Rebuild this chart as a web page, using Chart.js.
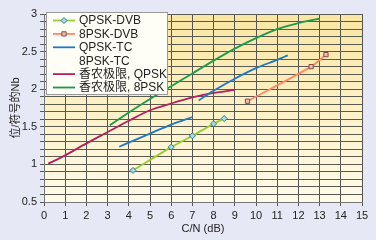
<html><head>
<title>C/N vs Nb</title>
<style>
  body {
    margin: 0;
    background-color: #e6e8f6;
  }
  #wrap {
    position: relative;
    width: 376px;
    height: 240px;
  }
</style>
<script src="https://cdn.jsdelivr.net/npm/chart.js"></script>
</head>
<body>
  <div id="wrap"><canvas id="cnChart" width="376" height="240"></canvas></div>

  <script>
    // Values
    const seriesNames = ['QPSK-DVB', '8PSK-DVB', 'QPSK-TC', '8PSK-TC', '香农极限, QPSK', '香农极限, 8PSK'];

    const qpskDvbX = [4.2, 6.0, 7.0, 8.0, 8.5];
    const qpskDvbY = [0.92, 1.23, 1.38, 1.54, 1.61];

    const epskDvbX = [9.6, 12.6, 13.3];
    const epskDvbY = [1.84, 2.30, 2.46];

    const qpskTcX = [3.55, 4, 5, 6, 7];
    const qpskTcY = [1.235, 1.29, 1.41, 1.53, 1.63];

    const epskTcX = [7.3, 8, 9, 10, 11, 11.5];
    const epskTcY = [1.85, 1.98, 2.14, 2.28, 2.39, 2.45];

    const shannonQpskX = [0.2, 1, 2, 3, 4, 5, 6, 7, 8, 9];
    const shannonQpskY = [1.01, 1.12, 1.28, 1.43, 1.58, 1.72, 1.81, 1.89, 1.95, 1.99];

    const shannon8pskX = [3.1, 4, 5, 6, 7, 8, 9, 10, 11, 12, 13];
    const shannon8pskY = [1.52, 1.69, 1.87, 2.04, 2.21, 2.38, 2.54, 2.68, 2.80, 2.88, 2.94];

    // axis range and steps
    const xRange = [0, 15];
    const yRange = [0.5, 3];
    const yLabelStep = 0.5;
    const yGridStep = 0.1;

    const pts = (xs, ys) => xs.map((x, i) => ({ x: x, y: ys[i] }));
    const FONT = "Arial, 'Liberation Sans', 'Noto Sans CJK SC', sans-serif";

    const datasets = [
      { label: seriesNames[0], data: pts(qpskDvbX, qpskDvbY), borderColor: '#9c3', pointStyle: 'rectRot',
        pointRadius: 3, pointBackgroundColor: '#9de0ee', pointBorderColor: '#3d7388', pointBorderWidth: 1 },
      { label: seriesNames[1], data: pts(epskDvbX, epskDvbY), borderColor: '#ff8866', pointStyle: 'rect',
        pointRadius: 3, pointBackgroundColor: '#e6c0b4', pointBorderColor: '#8a4a44', pointBorderWidth: 1 },
      { label: seriesNames[2], data: pts(qpskTcX, qpskTcY), borderColor: '#1f78c8', pointRadius: 0 },
      { label: seriesNames[3], data: pts(epskTcX, epskTcY), borderColor: '#1f78c8', pointRadius: 0, noLegendLine: true },
      { label: seriesNames[4], data: pts(shannonQpskX, shannonQpskY), borderColor: '#b3205e', pointRadius: 0 },
      { label: seriesNames[5], data: pts(shannon8pskX, shannon8pskY), borderColor: '#1c9a4e', pointRadius: 0 }
    ];
    datasets.forEach(d => { d.showLine = true; d.borderWidth = 1.8; d.tension = 0.3; d.fill = false; });

    // Yellow plot background
    const plotBg = {
      id: 'plotBg',
      beforeDraw(chart) {
        const { ctx, chartArea: a } = chart;
        const g = ctx.createLinearGradient(0, a.top, 0, a.bottom);
        g.addColorStop(0, '#f9e6a4');
        g.addColorStop(0.5, '#fdf1c6');
        g.addColorStop(1, '#fffbea');
        ctx.save();
        ctx.fillStyle = g;
        ctx.fillRect(a.left, a.top, a.right - a.left, a.bottom - a.top);
        ctx.restore();
      }
    };

    // Legend box inside the plot, top left
    const innerLegend = {
      id: 'innerLegend',
      afterDraw(chart) {
        const ctx = chart.ctx;
        const bx = 46, by = 12, bw = 121, bh = 82;
        ctx.save();
        ctx.fillStyle = '#fffef6';
        ctx.strokeStyle = '#999';
        ctx.lineWidth = 1;
        ctx.fillRect(bx, by, bw, bh);
        ctx.strokeRect(bx + 0.5, by + 0.5, bw, bh);
        ctx.font = '12px ' + FONT;
        ctx.textBaseline = 'middle';
        chart.data.datasets.forEach((d, i) => {
          const y = 20.5 + i * 13.4;
          if (!d.noLegendLine) {
            ctx.strokeStyle = d.borderColor;
            ctx.lineWidth = 1.8;
            ctx.beginPath();
            ctx.moveTo(53, y);
            ctx.lineTo(75, y);
            ctx.stroke();
            if (d.pointRadius) {
              ctx.fillStyle = d.pointBackgroundColor;
              ctx.strokeStyle = d.pointBorderColor;
              ctx.lineWidth = 1;
              Chart.helpers.drawPoint(ctx, { pointStyle: d.pointStyle, radius: 3, borderWidth: 1 }, 64, y);
            }
          }
          ctx.fillStyle = '#222';
          ctx.fillText(d.label, 79, y + 0.5);
        });
        ctx.restore();
      }
    };

    new Chart(document.getElementById('cnChart'), {
      type: 'scatter',
      data: { datasets: datasets },
      plugins: [plotBg, innerLegend],
      options: {
        responsive: false,
        animation: false,
        layout: { padding: { left: 0, right: 14, top: 14, bottom: 0 } },
        plugins: { legend: { display: false }, tooltip: { enabled: false } },
        scales: {
          x: {
            type: 'linear',
            min: xRange[0],
            max: xRange[1],
            afterFit: s => { s.height = 38; },
            ticks: { stepSize: 1, color: '#222', padding: 3, maxRotation: 0, font: { family: FONT, size: 11 } },
            grid: { color: '#555', lineWidth: 1, tickLength: 4 },
            border: { color: '#777' },
            title: { display: true, text: 'C/N (dB)', color: '#222', padding: { top: 0, bottom: 4 }, font: { family: FONT, size: 11 } }
          },
          y: {
            type: 'linear',
            min: yRange[0],
            max: yRange[1],
            afterFit: s => { s.width = 44; },
            afterBuildTicks: s => {
              const n = Math.round((yRange[1] - yRange[0]) / yGridStep);
              s.ticks = [];
              for (let i = 0; i <= n; i++) s.ticks.push({ value: +(yRange[0] + i * yGridStep).toFixed(2) });
            },
            ticks: {
              autoSkip: false,
              color: '#222',
              padding: 3,
              font: { family: FONT, size: 11 },
              callback: v => {
                const k = v / yLabelStep;
                return Math.abs(k - Math.round(k)) < 1e-6 ? String(Math.round(k) * yLabelStep) : '';
              }
            },
            grid: { color: '#5a5a50', lineWidth: 1, tickLength: 4 },
            border: { color: '#777' },
            title: { display: true, text: '位/符号的Nb', color: '#222', padding: { top: 9, bottom: 0 }, font: { family: FONT, size: 11 } }
          }
        }
      }
    });
  </script>
</body></html>
